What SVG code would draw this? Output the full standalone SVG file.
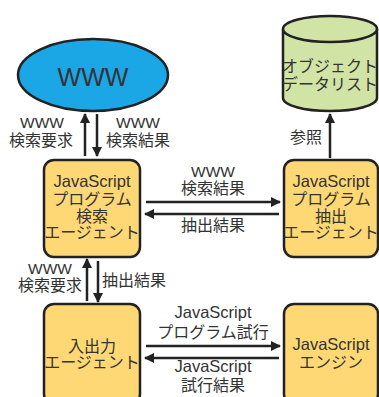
<svg xmlns="http://www.w3.org/2000/svg" width="379" height="397" viewBox="0 0 379 397">
  <defs>
    <style>
      text { font-family: "Liberation Sans", "Noto Sans CJK JP", sans-serif; font-size: 16px; fill: #333; text-anchor: middle; }
      .lat { font-size: 16.5px; }
      .www { font-size: 15.5px; }
      .box { fill: #fdd874; stroke: #222; stroke-width: 2.5; }
      .edge { stroke: #222; stroke-width: 2.5; fill: none; }
    </style>
    <marker id="arrow" viewBox="0 0 10 10" refX="9" refY="5" markerWidth="4.4" markerHeight="4" orient="auto" markerUnits="strokeWidth">
      <path d="M0,0 L10,5 L0,10 z" fill="#222"/>
    </marker>
  </defs>

  <rect width="379" height="397" fill="#fff"/>

  <!-- WWW cloud -->
  <g id="www">
    <ellipse cx="93" cy="75" rx="75" ry="36" fill="#1ba6e5" stroke="#222" stroke-width="2.5"/>
    <text x="93" y="86" style="font-size:25px">WWW</text>
  </g>

  <!-- object data list (cylinder) -->
  <g id="datalist">
    <path d="M283,29 L283,98 A47,13 0 0 0 377,98 L377,29" fill="#d1e4a6" stroke="#222" stroke-width="2.5"/>
    <ellipse cx="330" cy="29" rx="47" ry="13" fill="#d1e4a6" stroke="#222" stroke-width="2.5"/>
    <text x="330" y="72">オブジェクト</text>
    <text x="330" y="90">データリスト</text>
  </g>

  <!-- search agent -->
  <g id="search-agent">
    <rect class="box" x="44" y="160" width="96" height="97" rx="10"/>
    <text class="lat" x="92" y="187">JavaScript</text>
    <text x="92" y="205">プログラム</text>
    <text x="92" y="222">検索</text>
    <text x="92" y="238">エージェント</text>
  </g>

  <!-- extraction agent -->
  <g id="extract-agent">
    <rect class="box" x="284" y="160" width="94" height="97" rx="10"/>
    <text class="lat" x="331" y="187">JavaScript</text>
    <text x="331" y="205">プログラム</text>
    <text x="331" y="222">抽出</text>
    <text x="331" y="238">エージェント</text>
  </g>

  <!-- I/O agent -->
  <g id="io-agent">
    <rect class="box" x="44" y="304" width="96" height="100" rx="10"/>
    <text x="92" y="352">入出力</text>
    <text x="92" y="368">エージェント</text>
  </g>

  <!-- JavaScript engine -->
  <g id="engine">
    <rect class="box" x="284" y="304" width="94" height="100" rx="10"/>
    <text class="lat" x="331" y="350">JavaScript</text>
    <text x="331" y="368">エンジン</text>
  </g>

  <!-- connectors -->
  <g id="connectors">
    <line class="edge" x1="85" y1="156" x2="85" y2="114" marker-end="url(#arrow)"/>
    <line class="edge" x1="97" y1="114" x2="97" y2="156" marker-end="url(#arrow)"/>
    <line class="edge" x1="330" y1="158" x2="330" y2="114" marker-end="url(#arrow)"/>
    <line class="edge" x1="146" y1="202" x2="280" y2="202" marker-end="url(#arrow)"/>
    <line class="edge" x1="279" y1="214" x2="145" y2="214" marker-end="url(#arrow)"/>
    <line class="edge" x1="87" y1="301" x2="87" y2="259" marker-end="url(#arrow)"/>
    <line class="edge" x1="98" y1="261" x2="98" y2="302" marker-end="url(#arrow)"/>
    <line class="edge" x1="146" y1="346" x2="280" y2="346" marker-end="url(#arrow)"/>
    <line class="edge" x1="279" y1="358" x2="145" y2="358" marker-end="url(#arrow)"/>
  </g>

  <!-- connector labels -->
  <g id="labels">
    <text class="www" x="42" y="128">WWW</text>
    <text x="41" y="146">検索要求</text>
    <text class="www" x="138" y="128">WWW</text>
    <text x="138" y="146">検索結果</text>
    <text x="306" y="143">参照</text>
    <text class="www" x="213" y="177">WWW</text>
    <text x="213" y="194">検索結果</text>
    <text x="213" y="231">抽出結果</text>
    <text class="www" x="50" y="274">WWW</text>
    <text x="50" y="291">検索要求</text>
    <text x="134" y="286">抽出結果</text>
    <text class="lat" x="213" y="318">JavaScript</text>
    <text x="213" y="338">プログラム試行</text>
    <text class="lat" x="213" y="372">JavaScript</text>
    <text x="213" y="391">試行結果</text>
  </g>
</svg>
